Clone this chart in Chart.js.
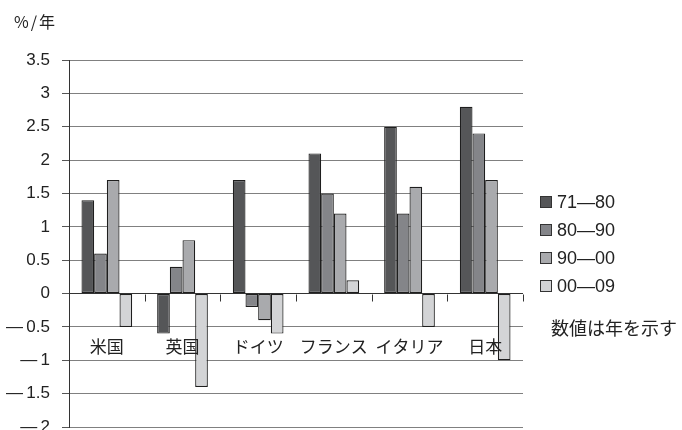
<!DOCTYPE html>
<html>
<head>
<meta charset="utf-8">
<script src="https://cdn.jsdelivr.net/npm/chart.js@4.4.0/dist/chart.umd.min.js"></script>
<style>
  html, body { margin: 0; padding: 0; background: #fff; }
  #wrap { width: 682px; height: 430px; }
</style>
</head>
<body>
<div id="wrap"><canvas id="grafico" width="682" height="430"></canvas></div>
<script>
// categorias e séries
const paises = ['米国', '英国', 'ドイツ', 'フランス', 'イタリア', '日本'];
const periodos = ['71—80', '80—90', '90—00', '00—09'];
const s7180 = [1.4, -0.6, 1.7, 2.1, 2.5, 2.8];
const s8090 = [0.6, 0.4, -0.2, 1.5, 1.2, 2.4];
const s9000 = [1.7, 0.8, -0.4, 1.2, 1.6, 1.7];
const s0009 = [-0.5, -1.4, -0.6, 0.2, -0.5, -1.0];
const cores = ['#555658', '#848589', '#a9aaad', '#d3d4d6'];

const fonteNum = '"Liberation Sans", Arial, "Noto Sans CJK JP", sans-serif';
const fonteJp = '"Noto Sans CJK JP", "Liberation Sans", sans-serif';

// textos extras, rótulos das categorias, marcas no zero e legenda
const extras = {
  id: 'extras',
  afterDraw(chart) {
    const ctx = chart.ctx;
    const x = chart.scales.x, y = chart.scales.y;
    const area = chart.chartArea;
    ctx.save();

    // marcas entre categorias na linha do zero
    const y0 = Math.round(y.getPixelForValue(0)) + 0.5;
    ctx.strokeStyle = '#333';
    ctx.lineWidth = 1;
    const passo = (area.right - area.left) / paises.length;
    for (let i = 1; i <= paises.length; i++) {
      const px = Math.round(area.left + passo * i) + 0.5;
      ctx.beginPath();
      ctx.moveTo(px, y0);
      ctx.lineTo(px, y0 + 7);
      ctx.stroke();
    }

    // rótulos das categorias
    ctx.fillStyle = '#222';
    ctx.font = '17px ' + fonteJp;
    ctx.textAlign = 'center';
    ctx.textBaseline = 'middle';
    const yLab = y.getPixelForValue(-0.79);
    paises.forEach((p, i) => {
      ctx.fillText(p, x.getPixelForValue(i), yLab);
    });

    // unidade
    ctx.textAlign = 'left';
    ctx.font = '16px ' + fonteJp;
    ctx.letterSpacing = '2px';
    ctx.fillText('%/年', 14, 22);
    ctx.letterSpacing = '0px';

    // legenda
    ctx.font = '18px ' + fonteNum;
    chart.data.datasets.forEach((ds, i) => {
      const ly = 202 + i * 28;
      ctx.fillStyle = ds.backgroundColor;
      ctx.fillRect(540.5, ly - 5.5, 11, 11);
      ctx.strokeStyle = '#333';
      ctx.strokeRect(540.5, ly - 5.5, 11, 11);
      ctx.fillStyle = '#222';
      ctx.fillText(ds.label, 557, ly + 1);
    });

    ctx.font = '18px ' + fonteJp;
    ctx.fillText('数値は年を示す', 551, 328);
    ctx.restore();
  }
};

new Chart(document.getElementById('grafico'), {
  type: 'bar',
  data: {
    labels: paises,
    datasets: [s7180, s8090, s9000, s0009].map((d, i) => ({
      label: periodos[i],
      data: d,
      backgroundColor: cores[i],
      borderColor: '#1e1e1e',
      borderWidth: 1.2,
      borderSkipped: false,
      inflateAmount: 0,
      categoryPercentage: 0.67,
      barPercentage: 1.0
    }))
  },
  options: {
    responsive: false,
    animation: false,
    layout: { padding: { top: 60, bottom: 3, left: 0, right: 159 } },
    plugins: {
      legend: { display: false },
      tooltip: { enabled: false }
    },
    scales: {
      x: { display: false },
      y: {
        min: -2,
        max: 3.5,
        ticks: {
          stepSize: 0.5,
          color: '#222',
          padding: 12,
          font: { family: fonteNum, size: 17 },
          callback: v => (v < 0 ? '—\u2009' + Math.abs(v) : String(v))
        },
        grid: {
          color: ctx => (ctx.tick && ctx.tick.value === 0 ? '#333' : '#808080'),
          lineWidth: 1,
          tickLength: 7,
          tickColor: '#555'
        },
        border: { color: '#333', width: 1 },
        afterFit(scale) {
          scale.width = 69;
          scale.paddingTop = 0;
          scale.paddingBottom = 0;
        }
      }
    }
  },
  plugins: [extras]
});
</script>
</body>
</html>
